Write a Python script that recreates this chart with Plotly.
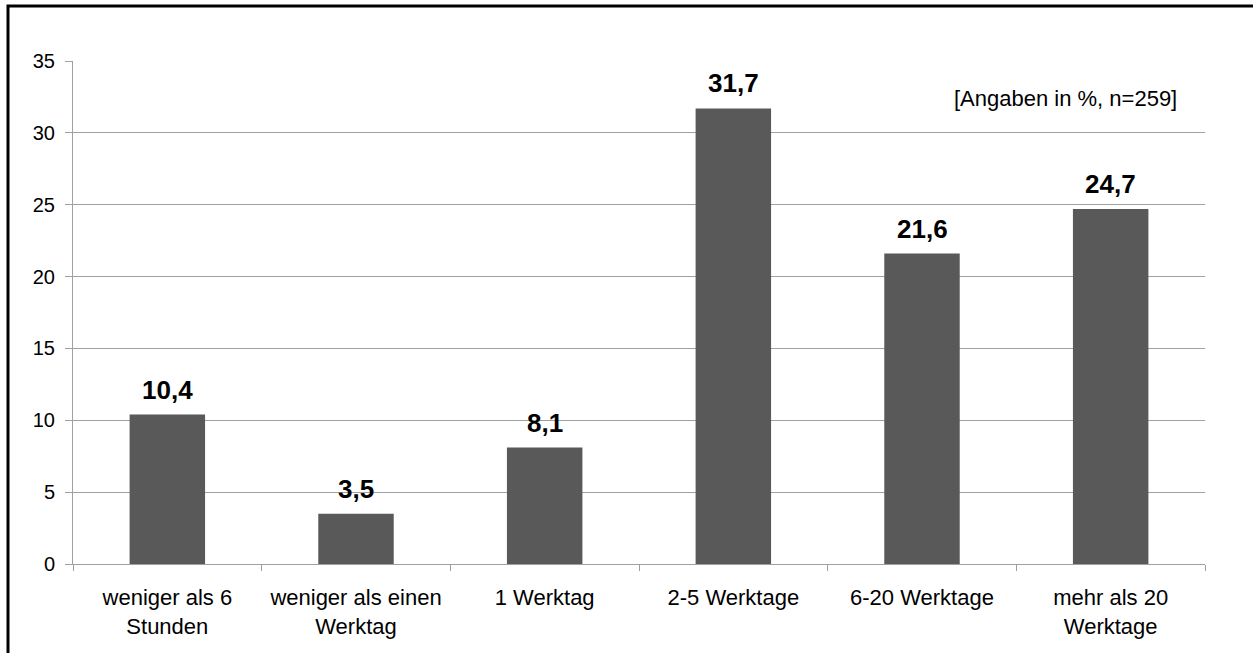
import plotly.graph_objects as go

# Dauer bis zur Bearbeitung, Anteile in % (n=259)
categories = [
    "weniger als 6<br>Stunden",
    "weniger als einen<br>Werktag",
    "1 Werktag",
    "2-5 Werktage",
    "6-20 Werktage",
    "mehr als 20<br>Werktage",
]
values = [10.4, 3.5, 8.1, 31.7, 21.6, 24.7]
y_ticks = [0, 5, 10, 15, 20, 25, 30, 35]
note = "[Angaben in %, n=259]"

labels = [f"{v:.1f}".replace(".", ",") for v in values]

W, H = 1253, 653
L, R, T, B = 73, 48, 61, 89
pw, ph = W - L - R, H - T - B
FONT = "Liberation Sans, Arial"

fig = go.Figure()
fig.add_trace(
    go.Bar(
        x=categories,
        y=values,
        marker=dict(color="#595959", line=dict(width=0)),
        hoverinfo="skip",
    )
)

# value labels above the bars
for c, v, t in zip(categories, values, labels):
    fig.add_annotation(
        x=c, y=v, text=f"<b>{t}</b>",
        showarrow=False, yanchor="middle", yshift=25,
        font=dict(family=FONT, size=26, color="#000000"),
    )

fig.add_annotation(
    text=note,
    xref="paper", yref="y",
    x=(1065 - L) / pw, y=32.36,
    xanchor="center", yanchor="middle",
    showarrow=False,
    font=dict(family=FONT, size=22, color="#000000"),
)

# frame around the chart (only top and left edges are visible in the crop)
fig.add_shape(
    type="rect", xref="paper", yref="paper",
    x0=(8 - L) / pw, x1=1.3,
    y0=-0.4, y1=(H - B - 6) / ph,
    line=dict(color="#000000", width=3),
    layer="above",
)

fig.update_layout(
    width=W, height=H,
    margin=dict(l=L, r=R, t=T, b=B),
    paper_bgcolor="white",
    plot_bgcolor="white",
    bargap=0.6,
    showlegend=False,
    font=dict(family=FONT, size=20, color="#000000"),
)
fig.update_xaxes(
    automargin=False,
    showline=True, linecolor="#a0a0a0", linewidth=1,
    ticks="outside", tickson="boundaries", ticklen=6, tickcolor="#a0a0a0",
    ticklabelstandoff=14,
    showgrid=False,
    tickfont=dict(family=FONT, size=22, color="#000000"),
)
fig.update_yaxes(
    automargin=False,
    range=[0, 35],
    tickvals=y_ticks,
    showline=True, linecolor="#a0a0a0", linewidth=1,
    ticks="outside", ticklen=7, tickcolor="#a0a0a0",
    ticklabelstandoff=6,
    showgrid=True, gridcolor="#a0a0a0", gridwidth=1,
    zeroline=False,
    tickfont=dict(family=FONT, size=20, color="#000000"),
)

fig.write_html(
    "out.html",
    config={"displayModeBar": False},
    post_script="document.body.style.margin='0';",
)
